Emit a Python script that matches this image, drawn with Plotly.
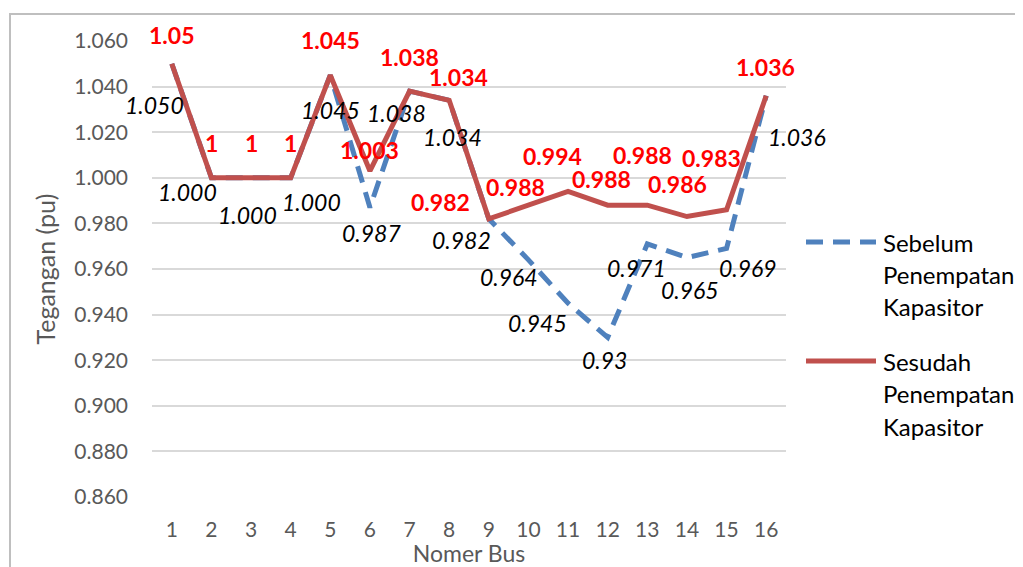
import plotly.graph_objects as go

bus = list(range(1, 17))
sebelum = [1.050, 1.000, 1.000, 1.000, 1.045, 0.987, 1.038, 1.034,
           0.982, 0.964, 0.945, 0.930, 0.971, 0.965, 0.969, 1.036]
sesudah = [1.050, 1.000, 1.000, 1.000, 1.045, 1.003, 1.038, 1.034,
           0.982, 0.988, 0.994, 0.988, 0.988, 0.983, 0.986, 1.036]
label_sebelum = ["1.050", "1.000", "1.000", "1.000", "1.045", "0.987", "1.038", "1.034",
                 "0.982", "0.964", "0.945", "0.93", "0.971", "0.965", "0.969", "1.036"]
label_sesudah = ["1.05", "1", "1", "1", "1.045", "1.003", "1.038", "1.034",
                 "0.982", "0.988", "0.994", "0.988", "0.988", "0.986", "0.983", "1.036"]
y_ticks = [0.86, 0.88, 0.90, 0.92, 0.94, 0.96, 0.98, 1.00, 1.02, 1.04, 1.06]
name_sebelum = ["Sebelum", "Penempatan", "Kapasitor"]
name_sesudah = ["Sesudah", "Penempatan", "Kapasitor"]

# label offsets (pixels, x right / y up) - style only
off_sesudah = [(0, 29), (0, 35), (0, 35), (0, 35), (0, 35), (0, 21), (0, 34), (9, 23),
               (-48, 17), (-13, 18), (-16, 35), (-6, 26), (-5, 50), (-9, 33), (-15, 52), (-1, 29)]
off_sebelum = [(-17, -41), (-24, -14), (-4, -37), (21, -24), (0, -35), (2, -26), (-13, -22), (3, -37),
               (-27, -21), (-19, -17), (-31, -20), (-3, -23), (-11, -24), (3, -32), (21, -20), (31, -41)]

BLUE = "#4F81BD"
RED = "#C0504D"
FONT = "Lato"
DASH = "17px,10px"

fig = go.Figure()
fig.add_trace(go.Scatter(x=bus, y=sebelum, mode="lines", name="Sebelum Penempatan Kapasitor",
                         line=dict(color=BLUE, width=5, dash=DASH), showlegend=False))
fig.add_trace(go.Scatter(x=bus, y=sesudah, mode="lines", name="Sesudah Penempatan Kapasitor",
                         line=dict(color=RED, width=5), showlegend=False))

anns = []
for xv, yv, t, (dx, dy) in zip(bus, sebelum, label_sebelum, off_sebelum):
    anns.append(dict(x=xv, y=yv, xref="x", yref="y", text="<i>" + t + "</i>", showarrow=False,
                     xshift=dx, yshift=dy, xanchor="center", yanchor="middle",
                     font=dict(family=FONT, size=23, color="#000000")))
for xv, yv, t, (dx, dy) in zip(bus, sesudah, label_sesudah, off_sesudah):
    anns.append(dict(x=xv, y=yv, xref="x", yref="y", text="<b>" + t + "</b>", showarrow=False,
                     xshift=dx, yshift=dy, xanchor="center", yanchor="middle",
                     font=dict(family=FONT, size=23, color="#FF0000")))

# plot area in screen pixels (page has an 8px body margin)
OFF = 8
L, R, T, B = 152, 786, 41, 497
def px(xp):
    return (xp - L) / (R - L)
def py(yp):
    return (B - yp) / (B - T)

shapes = []
legend_items = [(name_sebelum, BLUE, DASH, 242), (name_sesudah, RED, "solid", 361)]
for lines, col, dsh, ytop in legend_items:
    shapes.append(dict(type="line", xref="paper", yref="paper", x0=px(806), x1=px(876),
                       y0=py(ytop), y1=py(ytop), line=dict(color=col, width=5, dash=dsh)))
    for i, ln in enumerate(lines):
        anns.append(dict(x=px(881), y=py(ytop + i * 32.5), xref="paper", yref="paper", text=ln,
                         showarrow=False, xanchor="left", yanchor="middle",
                         font=dict(family=FONT, size=24, color="#000000")))

# chart border (left and top edges visible in the reference)
shapes.append(dict(type="rect", xref="paper", yref="paper", x0=px(10), x1=px(1040),
                   y0=py(600), y1=py(14), line=dict(color="#BFBFBF", width=2),
                   fillcolor="rgba(0,0,0,0)"))

W, H = 1023 - OFF, 567 - OFF
fig.update_layout(
    width=W, height=H,
    margin=dict(l=L - OFF, r=W - (R - OFF), t=T - OFF, b=H - (B - OFF)),
    plot_bgcolor="white", paper_bgcolor="white",
    font=dict(family=FONT, size=21, color="#595959"),
    annotations=anns, shapes=shapes, showlegend=False,
    xaxis=dict(range=[0.5, 16.5], tickmode="array", tickvals=bus, ticktext=[str(b) for b in bus],
               showgrid=False, zeroline=False, showline=False, ticks="", automargin=False,
               ticklabelstandoff=18,
               tickfont=dict(family=FONT, size=21, color="#595959"),
               title=dict(text="Nomer Bus", font=dict(family=FONT, size=23, color="#595959"), standoff=1)),
    yaxis=dict(range=[0.86, 1.06], tickmode="array", tickvals=y_ticks,
               ticktext=["%.3f" % v for v in y_ticks],
               showgrid=True, gridcolor="#D9D9D9", gridwidth=1.5, zeroline=False, showline=False,
               ticks="", ticklabelstandoff=23, automargin=False,
               tickfont=dict(family=FONT, size=21, color="#595959"),
               title=dict(text="Tegangan (pu)", font=dict(family=FONT, size=25, color="#595959"), standoff=11)),
)

fig.write_html("out.html")
